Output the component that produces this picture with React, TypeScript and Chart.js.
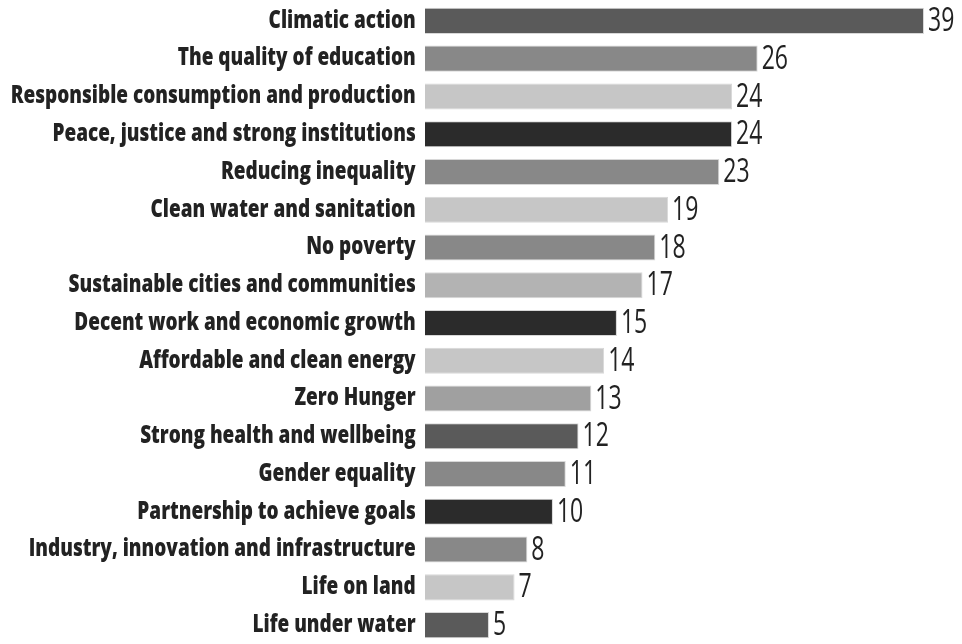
import React, { useEffect, useRef } from "react";
import { Chart, registerables, CategoryScale } from "chart.js";

Chart.register(...registerables);

const categories = [
  "Climatic action",
  "The quality of education",
  "Responsible consumption and production",
  "Peace, justice and strong institutions",
  "Reducing inequality",
  "Clean water and sanitation",
  "No poverty",
  "Sustainable cities and communities",
  "Decent work and economic growth",
  "Affordable and clean energy",
  "Zero Hunger",
  "Strong health and wellbeing",
  "Gender equality",
  "Partnership to achieve goals",
  "Industry, innovation and infrastructure",
  "Life on land",
  "Life under water",
];

const values = [39, 26, 24, 24, 23, 19, 18, 17, 15, 14, 13, 12, 11, 10, 8, 7, 5];

const barColors = [
  "#5a5a5a",
  "#888888",
  "#c6c6c6",
  "#2b2b2b",
  "#888888",
  "#c6c6c6",
  "#888888",
  "#b3b3b3",
  "#2b2b2b",
  "#c6c6c6",
  "#a0a0a0",
  "#5a5a5a",
  "#888888",
  "#2b2b2b",
  "#888888",
  "#c6c6c6",
  "#5a5a5a",
];

const LABEL_FAMILY = "'Open Sans', 'Noto Sans', 'DejaVu Sans', sans-serif";
const LABEL_SIZE = 24;
const LABEL_WEIGHT = "800";
const LABEL_TARGET_WIDTH = 405; // width of the longest label in the reference
const VALUE_FONT = "500 32px 'Open Sans', 'Noto Sans', 'DejaVu Sans', sans-serif";
const VALUE_SQUEEZE = 0.72;

function measureSqueeze(): number {
  const c = document.createElement("canvas");
  const ctx = c.getContext("2d");
  if (!ctx) return 0.8;
  ctx.font = `${LABEL_WEIGHT} ${LABEL_SIZE}px ${LABEL_FAMILY}`;
  let maxW = 0;
  categories.forEach((t) => {
    maxW = Math.max(maxW, ctx.measureText(t).width);
  });
  return maxW > 0 ? LABEL_TARGET_WIDTH / maxW : 0.8;
}

class CondensedCategoryScale extends CategoryScale {
  static id = "condensedCategory";
  static defaults = CategoryScale.defaults;
  _computeLabelArea(): any {
    return undefined;
  }
  drawLabels(chartArea: any) {
    const ctx = this.ctx;
    const sx = (this.options as any).squeeze ?? 1;
    const ax = this.right - ((this.options as any).ticks.padding ?? 0);
    ctx.save();
    ctx.translate(ax, 0);
    ctx.scale(sx, 1);
    ctx.translate(-ax, 0);
    super.drawLabels(chartArea);
    ctx.restore();
  }
}
Chart.register(CondensedCategoryScale as any);

const valueLabelPlugin = {
  id: "valueLabels",
  afterDatasetsDraw(chart: any) {
    const { ctx } = chart;
    const meta = chart.getDatasetMeta(0);
    ctx.save();
    ctx.font = VALUE_FONT;
    ctx.fillStyle = "#222222";
    ctx.textAlign = "left";
    ctx.textBaseline = "middle";
    meta.data.forEach((bar: any, i: number) => {
      ctx.save();
      ctx.translate(bar.x + 4, bar.y + 1);
      ctx.scale(VALUE_SQUEEZE, 1);
      ctx.fillText(String(values[i]), 0, 0);
      ctx.restore();
    });
    ctx.restore();
  },
};

export default function App() {
  const canvasRef = useRef<HTMLCanvasElement | null>(null);

  useEffect(() => {
    if (!canvasRef.current) return;
    const squeeze = measureSqueeze();
    const chart = new Chart(canvasRef.current, {
      type: "bar",
      data: {
        labels: categories,
        datasets: [
          {
            data: values,
            backgroundColor: barColors,
            borderColor: "#d8d8d8",
            borderWidth: 1,
            barPercentage: 0.69,
            categoryPercentage: 1,
          },
        ],
      },
      options: {
        indexAxis: "y",
        animation: false,
        responsive: true,
        maintainAspectRatio: false,
        layout: { padding: { top: 2, bottom: 0, left: 0, right: 38 } },
        plugins: {
          legend: { display: false },
          tooltip: { enabled: false },
        },
        scales: {
          x: {
            display: false,
            min: 0,
            max: 39,
          },
          y: {
            type: "condensedCategory",
            squeeze,
            grid: { display: false },
            border: { display: false },
            afterFit(scale: any) {
              scale.width = 425;
              scale.paddingTop = 0;
              scale.paddingBottom = 0;
            },
            ticks: {
              padding: 3,
              color: "#222222",
              autoSkip: false,
              font: {
                family: LABEL_FAMILY,
                size: LABEL_SIZE,
                weight: LABEL_WEIGHT,
              },
            },
          } as any,
        },
      },
      plugins: [valueLabelPlugin],
    });
    return () => chart.destroy();
  }, []);

  return (
    <div
      style={{
        position: "absolute",
        left: 0,
        top: 0,
        width: 962,
        height: 644,
        background: "#ffffff",
      }}
    >
      <canvas ref={canvasRef} />
    </div>
  );
}
